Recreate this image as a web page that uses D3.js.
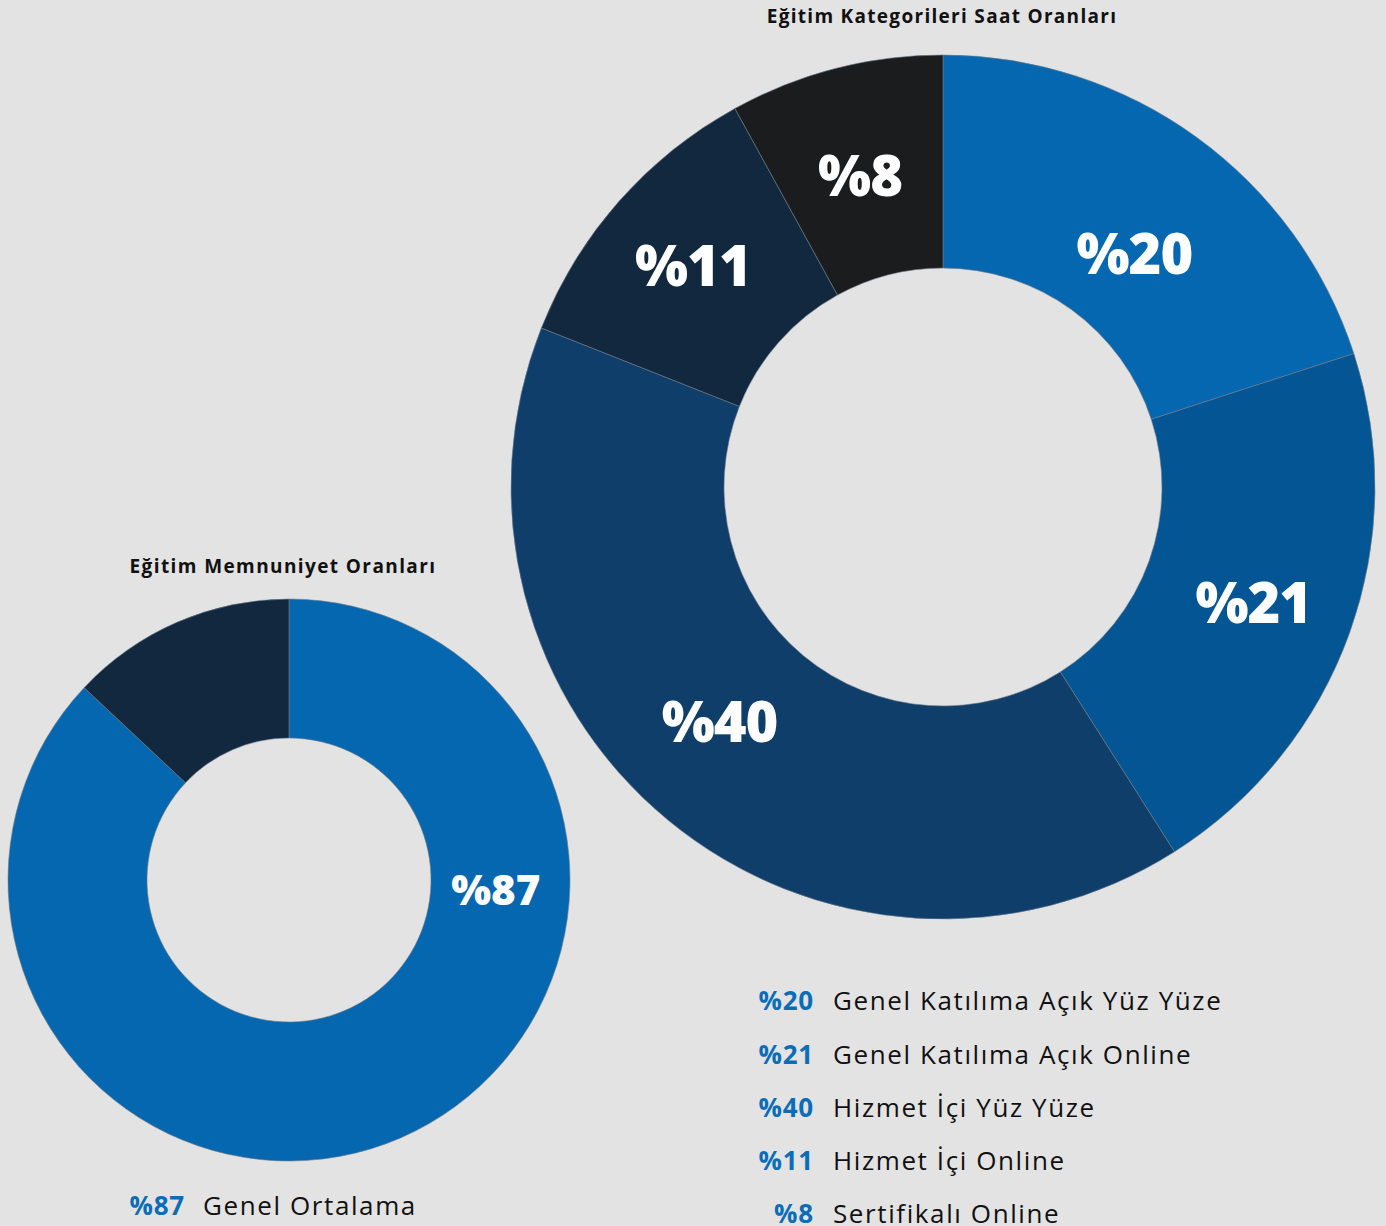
<!DOCTYPE html>
<html>
<head>
<meta charset="utf-8">
<script src="https://cdn.jsdelivr.net/npm/d3@7"></script>
<style>
  html, body { margin: 0; padding: 0; background: #e3e3e3; }
  svg { display: block; font-family: "Open Sans", "Noto Sans", sans-serif; }
</style>
</head>
<body>
<div class="chart"></div>
<script>
// Eğitim Kategorileri Saat Oranları
var categoryNames = ["Genel Katılıma Açık Yüz Yüze", "Genel Katılıma Açık Online", "Hizmet İçi Yüz Yüze", "Hizmet İçi Online", "Sertifikalı Online"];
var categoryValues = [20, 21, 40, 11, 8];
var categoryColors = ["#0467b0", "#045594", "#0f3e6b", "#12283f", "#1b1c1e"];

// Eğitim Memnuniyet Oranları
var satisfactionNames = ["Genel Ortalama", ""];
var satisfactionValues = [87, 13];
var satisfactionColors = ["#0467b0", "#12283f"];

var width = 1386, height = 1226;

var svg = d3.select(".chart").append("svg")
    .attr("width", width)
    .attr("height", height);

var pie = d3.pie().sort(null).value(function(d) { return d; });

//--- big donut
var big = svg.append("g").attr("transform", "translate(943,487)");
var bigArc = d3.arc().innerRadius(219).outerRadius(432);
// small nudges so labels sit like in the original
var nudge = {0: [0, 30], 1: [4, 6], 2: [-16, -16], 3: [-6, -6], 4: [-2, 4]};

var bigSlices = pie(categoryValues);
big.selectAll("path")
  .data(bigSlices)
  .enter()
    .append("path")
    .attr("d", bigArc)
    .attr("fill", function(d, i) { return categoryColors[i]; })
    .attr("stroke", "#6f7c8a")
    .attr("stroke-width", 0.6);

big.selectAll("text.val")
  .data(bigSlices)
  .enter()
    .append("text")
    .attr("class", "val")
    .attr("transform", function(d, i) {
      var c = bigArc.centroid(d);
      return "translate(" + (c[0] + nudge[i][0]) + "," + (c[1] + nudge[i][1]) + ")";
    })
    .attr("text-anchor", "middle")
    .attr("dy", "0.36em")
    .attr("fill", "#fff")
    .style("font-size", "56px")
    .style("font-weight", 800)
    .style("letter-spacing", "-1px")
    .text(function(d) { return "%" + d.data; });

svg.append("text")
  .attr("x", 942)
  .attr("y", 23)
  .attr("text-anchor", "middle")
  .style("font-size", "19px")
  .style("font-weight", 700)
  .style("letter-spacing", "1.3px")
  .attr("fill", "#111")
  .text("Eğitim Kategorileri Saat Oranları");

//--- small donut
var small = svg.append("g").attr("transform", "translate(289,880)");
var smallArc = d3.arc().innerRadius(142).outerRadius(281);
var smallSlices = pie(satisfactionValues);

small.selectAll("path")
  .data(smallSlices)
  .enter()
    .append("path")
    .attr("d", smallArc)
    .attr("fill", function(d, i) { return satisfactionColors[i]; })
    .attr("stroke", "#6f7c8a")
    .attr("stroke-width", 0.6);

// label sits on the right side of the ring
var a87 = Math.PI * 0.515, r87 = 207;
small.append("text")
  .attr("x", r87 * Math.sin(a87))
  .attr("y", -r87 * Math.cos(a87))
  .attr("text-anchor", "middle")
  .attr("dy", "0.36em")
  .attr("fill", "#fff")
  .style("font-size", "42px")
  .style("font-weight", 800)
  .text("%" + satisfactionValues[0]);

svg.append("text")
  .attr("x", 283)
  .attr("y", 573)
  .attr("text-anchor", "middle")
  .style("font-size", "19px")
  .style("font-weight", 700)
  .style("letter-spacing", "1.4px")
  .attr("fill", "#111")
  .text("Eğitim Memnuniyet Oranları");

//--- legends
var legend = svg.append("g").attr("class", "legend");
var rowY = d3.scalePoint().domain(d3.range(categoryNames.length)).range([1001, 1214]);

legend.selectAll("text.pct")
  .data(categoryValues)
  .enter()
    .append("text")
    .attr("class", "pct")
    .attr("x", 814)
    .attr("y", function(d, i) { return rowY(i); })
    .attr("dy", "0.36em")
    .attr("text-anchor", "end")
    .attr("fill", "#0a6db8")
    .style("font-size", "26px")
    .style("font-weight", 700)
    .style("letter-spacing", "0.8px")
    .text(function(d) { return "%" + d; });

legend.selectAll("text.name")
  .data(categoryNames)
  .enter()
    .append("text")
    .attr("class", "name")
    .attr("x", 833)
    .attr("y", function(d, i) { return rowY(i); })
    .attr("dy", "0.36em")
    .attr("fill", "#111")
    .style("font-size", "26px")
    .style("letter-spacing", "1.6px")
    .text(function(d) { return d; });

legend.append("text")
  .attr("x", 185)
  .attr("y", 1206)
  .attr("dy", "0.36em")
  .attr("text-anchor", "end")
  .attr("fill", "#0a6db8")
  .style("font-size", "26px")
  .style("font-weight", 700)
  .style("letter-spacing", "0.8px")
  .text("%" + satisfactionValues[0]);

legend.append("text")
  .attr("x", 203)
  .attr("y", 1206)
  .attr("dy", "0.36em")
  .attr("fill", "#111")
  .style("font-size", "26px")
  .style("letter-spacing", "1.6px")
  .text(satisfactionNames[0]);
</script>
</body>
</html>
